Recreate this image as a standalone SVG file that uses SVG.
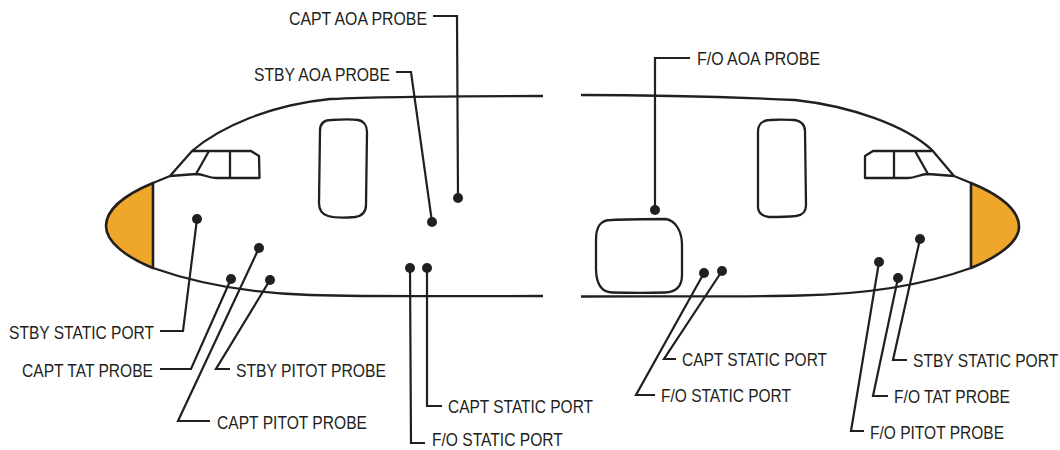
<svg xmlns="http://www.w3.org/2000/svg" width="1060" height="450" viewBox="0 0 1060 450">
<style>
.o{fill:none;stroke:#231f20;stroke-width:2.3;stroke-linejoin:round}
.n{fill:#eea72b;stroke:#231f20;stroke-width:2.6;stroke-linejoin:round}
.l{fill:none;stroke:#231f20;stroke-width:2.2;stroke-linejoin:miter}
.d{fill:#231f20}
text{font-family:"Liberation Sans",Arial,sans-serif;font-size:18px;fill:#231f20}
</style>
<rect width="1060" height="450" fill="#fff"/>
<g id="fuselage-left">
<path class="n" d="M153 183C124 195 106 210 106 226C106 242 126 257 153 268Z"/>
<path class="o" d="M543 96C470 96 390 96 330 99C270 105 220 127 192 151L170 176L153 183"/>
<path class="o" d="M153 268C190 281 240 293 310 295C380 297 460 296 543 296"/>
<path class="o" d="M192 151H251L259 156L259.500 178H216C208 178 204 174 196 174L170 176M209 151L196 174M230 151V178"/>
<path class="o" d="M331 120C345 119 352 119 358 120C364 121 367 126 367 132L366 205C366 213 362 216 355 217C345 218 335 218 328 216C321 214 319 209 319 203L320 131C320 124 324 120 331 120Z"/>
</g>
<g id="fuselage-right">
<path class="n" d="M971 183C1000 195 1019 210 1019 227C1019 242 998 257 971 268Z"/>
<path class="o" d="M581 95C650 95 730 97 795 100C850 106 905 125 932 150L954 176L971 183"/>
<path class="o" d="M971 268C935 281 880 294 800 295.500C730 297 660 296 581 296.500"/>
<path class="o" d="M932 151H873L865 156V178H908C916 178 920 174 928 174L954 176M915 151L928 174M894 151V178"/>
<path class="o" d="M770 120C782 119 790 120 795 120C801 121 805 125 805 131L806 205C806 212 803 215 796 216C786 217 778 217 769 217C762 216 758 213 758 207L758 140L758 132C758 125 762 120 770 120Z"/>
<path class="o" d="M611 220C630 219 650 219 665 219C676 220 682 232 682 245L682 275C682 287 676 292 665 292.500C650 293 630 293 612 292.500C601 292 596 283 596 268V240C596 227 600 220 611 220Z"/>
</g>
<g id="connectors">
<path class="l" d="M433 16H457L458 198"/>
<path class="l" d="M396 72H411L432 222"/>
<path class="l" d="M690 58H655V210"/>
<path class="l" d="M197 219L183 331H160"/>
<path class="l" d="M231 279L191 369H160"/>
<path class="l" d="M259 248L178 421H210"/>
<path class="l" d="M270 280L216 369H230"/>
<path class="l" d="M427 268V406H442"/>
<path class="l" d="M410 268L411 443H425"/>
<path class="l" d="M722 271L664 359H676"/>
<path class="l" d="M704 273L636 395H655"/>
<path class="l" d="M879 262L851 431H864"/>
<path class="l" d="M898 278L873 396H888"/>
<path class="l" d="M920 239L893 360H907"/>
</g>
<g id="capt-aoa-probe"><circle class="d" cx="458" cy="198" r="5"/><text x="289" y="24.500" textLength="138" lengthAdjust="spacingAndGlyphs">CAPT AOA PROBE</text></g>
<g id="stby-aoa-probe"><circle class="d" cx="432" cy="222" r="5"/><text x="254" y="80.500" textLength="136" lengthAdjust="spacingAndGlyphs">STBY AOA PROBE</text></g>
<g id="fo-aoa-probe"><circle class="d" cx="655" cy="210" r="5"/><text x="697" y="64.500" textLength="123" lengthAdjust="spacingAndGlyphs">F/O AOA PROBE</text></g>
<g id="stby-static-port-l"><circle class="d" cx="197" cy="219" r="5"/><text x="9" y="338.500" textLength="145" lengthAdjust="spacingAndGlyphs">STBY STATIC PORT</text></g>
<g id="capt-tat-probe"><circle class="d" cx="231" cy="279" r="5"/><text x="22" y="376.500" textLength="131" lengthAdjust="spacingAndGlyphs">CAPT TAT PROBE</text></g>
<g id="capt-pitot-probe"><circle class="d" cx="259" cy="248" r="5"/><text x="217" y="428.500" textLength="150" lengthAdjust="spacingAndGlyphs">CAPT PITOT PROBE</text></g>
<g id="stby-pitot-probe"><circle class="d" cx="270" cy="280" r="5"/><text x="236" y="376.500" textLength="150" lengthAdjust="spacingAndGlyphs">STBY PITOT PROBE</text></g>
<g id="capt-static-port-l"><circle class="d" cx="427" cy="268" r="5"/><text x="448" y="413" textLength="145" lengthAdjust="spacingAndGlyphs">CAPT STATIC PORT</text></g>
<g id="fo-static-port-l"><circle class="d" cx="410" cy="268" r="5"/><text transform="translate(432 446) scale(.867 1)">F/O STATIC PORT</text></g>
<g id="capt-static-port-r"><circle class="d" cx="722" cy="271" r="5"/><text x="682" y="365.500" textLength="145" lengthAdjust="spacingAndGlyphs">CAPT STATIC PORT</text></g>
<g id="fo-static-port-r"><circle class="d" cx="704" cy="273" r="5"/><text x="661" y="402" textLength="130" lengthAdjust="spacingAndGlyphs">F/O STATIC PORT</text></g>
<g id="fo-pitot-probe"><circle class="d" cx="879" cy="262" r="5"/><text x="870" y="439" textLength="134" lengthAdjust="spacingAndGlyphs">F/O PITOT PROBE</text></g>
<g id="fo-tat-probe"><circle class="d" cx="898" cy="278" r="5"/><text x="894" y="402.500" textLength="116" lengthAdjust="spacingAndGlyphs">F/O TAT PROBE</text></g>
<g id="stby-static-port-r"><circle class="d" cx="920" cy="239" r="5"/><text transform="translate(913 366.500) scale(.867 1)">STBY STATIC PORT</text></g>
</svg>
